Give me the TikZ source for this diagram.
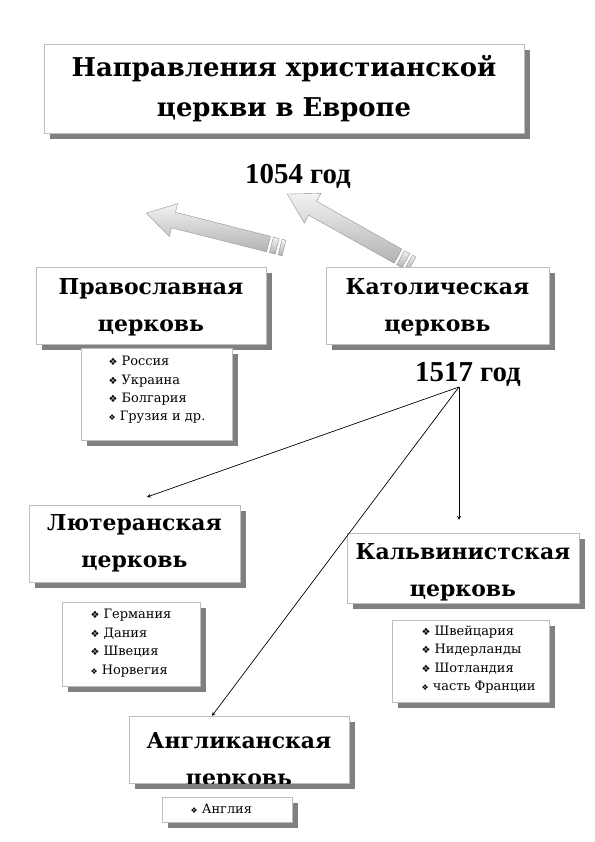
\documentclass[tikz,border=0pt]{standalone}
\usepackage{fontspec}
\setmainfont{DejaVu Serif}
\newfontfamily\yearfont{Liberation Serif}
\newfontfamily\symfont{DejaVu Sans}
\usepackage{tikz}
\usetikzlibrary{arrows,shapes,positioning,shadows}
\usepackage{xcolor}
\definecolor{shadowgray}{RGB}{128,128,128}
\definecolor{framegray}{RGB}{190,190,190}
\tikzstyle{arrow} = [line width=0.7pt,->,>=stealth]
\tikzstyle{box} = [draw=framegray, fill=white, drop shadow={shadow xshift=6bp, shadow yshift=-6bp, fill=shadowgray, opacity=1}]
\tikzstyle{church} = [font=\fontsize{22}{37}\selectfont\bfseries, align=center]
\tikzstyle{listtext} = [font=\fontsize{13}{18.5}\selectfont, align=left]
\tikzstyle{year} = [font=\fontsize{29}{30}\selectfont\yearfont\bfseries]
\tikzstyle{blockarrow} = [draw=gray!85, top color=gray!10, bottom color=gray!60]
\newcommand{\bul}{{\symfont\fontsize{10}{10}\selectfont ❖}\ }
\newcommand{\sbul}{{\symfont\fontsize{8}{8}\selectfont ❖}\ }

\begin{document}
\begin{tikzpicture}[x=1bp, y=1bp]
\useasboundingbox (0,0) rectangle (595,842);

% title
\node[box, minimum width=480bp, minimum height=89bp] (title) at (284,753.5) {};
\node[church, font=\fontsize{26}{40}\selectfont\bfseries] (title-t) at (title) {Направления христианской\\церкви в Европе};

% 1054
\node[year] (y1054) at (298,666) {1054 год};

\begin{scope}[shift={(284,594)}, rotate=165.8]
\draw[blockarrow] (16,-8) -- (114,-8) -- (114,-17) -- (142,0) -- (114,17) -- (114,8) -- (16,8) -- cycle;
\draw[blockarrow] (7,-8) rectangle (13,8);
\draw[blockarrow] (0,-8) rectangle (4,8);
\end{scope}
\begin{scope}[shift={(412,578)}, rotate=150.7]
\draw[blockarrow] (16,-8) -- (114,-8) -- (114,-17) -- (143,0) -- (114,17) -- (114,8) -- (16,8) -- cycle;
\draw[blockarrow] (7,-8) rectangle (13,8);
\draw[blockarrow] (0,-8) rectangle (4,8);
\end{scope}

% orthodox and catholic
\node[box, minimum width=230bp, minimum height=77bp] (orth) at (151,536.5) {};
\node[church] (orth-t) at (151,534.5) {Православная\\церковь};
\node[box, minimum width=223bp, minimum height=77bp] (cath) at (437.5,536.5) {};
\node[church] (cath-t) at (437.5,534.5) {Католическая\\церковь};

\node[box, minimum width=151bp, minimum height=92bp] (rus) at (156.5,448) {};
\node[listtext, anchor=west] (rus-t) at (105,452) {\bul Россия\\ \bul Украина\\ \bul Болгария\\ \sbul Грузия и др.};

% 1517
\node[year] (y1517) at (468,468) {1517 год};
\coordinate (fork) at (459,455);

% lutheran
\node[box, minimum width=211bp, minimum height=77bp] (luth) at (134.5,298.5) {};
\node[church] (luth-t) at (134.5,299) {Лютеранская\\церковь};
\node[box, minimum width=138bp, minimum height=84bp] (germ) at (131,198) {};
\node[listtext, anchor=west] (germ-t) at (87,199) {\bul Германия\\ \bul Дания\\ \bul Швеция\\ \sbul Норвегия};

% calvinist
\node[box, minimum width=232bp, minimum height=70bp] (calv) at (463,274) {};
\begin{scope}
\clip (calv.south west) rectangle (calv.north east);
\node[church] (calv-t) at (463,270) {Кальвинистская\\церковь};
\end{scope}
\node[box, minimum width=157bp, minimum height=82bp] (swiss) at (470.5,181) {};
\node[listtext, anchor=west] (swiss-t) at (418,182.5) {\bul Швейцария\\ \bul Нидерланды\\ \bul Шотландия\\ \sbul часть Франции};

% anglican
\node[box, minimum width=220bp, minimum height=67bp] (angl) at (239,92.5) {};
\begin{scope}
\clip (angl.south west) rectangle (angl.north east);
\node[church] (angl-t) at (239,81) {Англиканская\\церковь};
\end{scope}
\node[box, minimum width=130bp, minimum height=25bp] (engl) at (227,32.5) {};
\node[listtext, anchor=west] (engl-t) at (187,33) {\sbul Англия};

% arrows from 1517
\coordinate (lutharr) at (147,345);
\draw[arrow] (fork) -- (lutharr);
\draw[arrow, shorten >=13bp] (fork) -- (fork |- calv.north);
\draw[arrow] (fork) -- ([xshift=-27bp]angl.north);
\end{tikzpicture}
\end{document}
